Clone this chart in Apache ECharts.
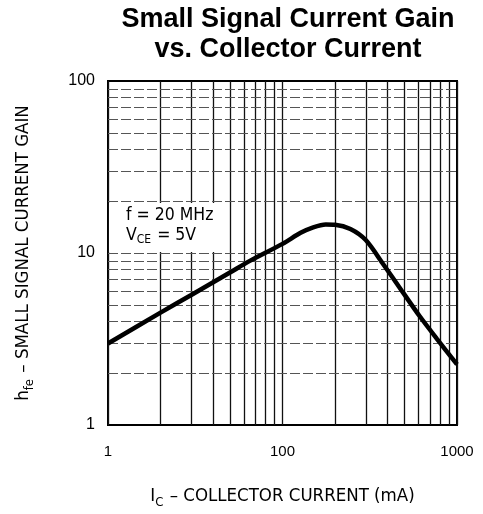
<!DOCTYPE html>
<html>
<head>
<meta charset="utf-8">
<script src="https://cdn.jsdelivr.net/npm/echarts@6/dist/echarts.min.js"></script>
<style>
  html, body { margin: 0; padding: 0; background: #fff; }
  #chart { width: 483px; height: 514px; }
</style>
</head>
<body>
<div id="chart"></div>
<script>
  // curve (x in grid position, y = hfe)
  var currentValues = [1, 2, 3, 5, 6.5, 10, 12.7, 15, 17.7, 20, 24.5, 30, 37.8, 49, 61, 76.5, 100];
  var gainValues = [2.98, 4.5, 5.7, 7.7, 9.0, 11.3, 13.1, 14.1, 14.65, 14.6, 13.8, 11.9, 8.6, 5.9, 4.3, 3.18, 2.25];

  // tick labels as printed on the sheet
  var xTickValues = [1, 10, 100];
  var xTickLabels = ['1', '100', '1000'];
  var yTickValues = [1, 10, 100];
  var yTickLabels = ['1', '10', '100'];

  // minor grid lines of the log paper
  var minorLines = [2, 3, 4, 5, 6, 7, 8, 9, 20, 30, 40, 50, 60, 70, 80, 90];

  var narrow = "'Liberation Sans Narrow', 'DejaVu Sans Condensed', 'Liberation Sans', Arial, sans-serif";

  function tickLabel(values, labels) {
    return function (v) {
      for (var i = 0; i < values.length; i++) {
        if (Math.abs(v - values[i]) < 1e-6) return labels[i];
      }
      return '';
    };
  }

  var pts = [];
  for (var i = 0; i < currentValues.length; i++) {
    pts.push([currentValues[i], gainValues[i]]);
  }

  var vLines = [], hLines = [];
  for (var j = 0; j < minorLines.length; j++) {
    vLines.push({ xAxis: minorLines[j] });
    hLines.push({ yAxis: minorLines[j] });
  }
  hLines.push({ yAxis: 10 });

  var nameRich = {
    n: { fontSize: 18.5, lineHeight: 22, verticalAlign: 'top', fontFamily: narrow, color: '#000' },
    s: { fontSize: 13, lineHeight: 13, padding: [12, 1, 0, 0], verticalAlign: 'bottom', fontFamily: narrow, color: '#000' }
  };

  var chart = echarts.init(document.getElementById('chart'));
  chart.setOption({
    animation: false,
    backgroundColor: '#fff',
    title: {
      text: 'Small Signal Current Gain\nvs. Collector Current',
      left: 283,
      top: 0,
      textAlign: 'center',
      textStyle: {
        fontFamily: "'Liberation Sans', Arial, sans-serif",
        fontWeight: 'bold',
        fontSize: 27,
        lineHeight: 30,
        color: '#000'
      }
    },
    grid: {
      left: 108,
      top: 81,
      right: 26,
      bottom: 87,
      show: true,
      borderColor: '#000',
      borderWidth: 2,
      backgroundColor: 'transparent'
    },
    xAxis: {
      type: 'log',
      logBase: 10,
      min: 1,
      max: 100,
      axisLine: { show: false },
      axisTick: { show: false },
      splitLine: { show: true, lineStyle: { color: '#111', width: 1.3 } },
      axisLabel: {
        margin: 19,
        fontSize: 15,
        color: '#000',
        fontFamily: "'Liberation Sans', Arial, sans-serif",
        formatter: tickLabel(xTickValues, xTickLabels)
      },
      name: '{n|I}{s|C}{n| – COLLECTOR CURRENT (mA)}',
      nameLocation: 'middle',
      nameGap: 62,
      nameTextStyle: { rich: nameRich }
    },
    yAxis: {
      type: 'log',
      logBase: 10,
      min: 1,
      max: 100,
      axisLine: { show: false },
      axisTick: { show: false },
      splitLine: { show: false },
      axisLabel: {
        margin: 13,
        fontSize: 16,
        color: '#000',
        fontFamily: "'Liberation Sans', Arial, sans-serif",
        formatter: tickLabel(yTickValues, yTickLabels)
      },
      name: '{n|h}{s|fe}{n| – SMALL SIGNAL CURRENT GAIN}',
      nameLocation: 'middle',
      nameGap: 72,
      nameRotate: 90,
      nameTextStyle: { rich: nameRich }
    },
    graphic: [
      {
        type: 'rect',
        z: 10,
        shape: { x: 109, y: 203, width: 113, height: 49 },
        style: { fill: '#fff' }
      },
      {
        type: 'text',
        z: 11,
        left: 126,
        top: 206,
        style: {
          text: '{n|f = 20 MHz}\n{n|V}{s|CE}{n| = 5V}',
          rich: {
            n: { fontSize: 17.5, lineHeight: 20, verticalAlign: 'top', fontFamily: narrow, fill: '#000' },
            s: { fontSize: 12, lineHeight: 12, padding: [10, 1, 0, 0], verticalAlign: 'bottom', fontFamily: narrow, fill: '#000' }
          }
        }
      }
    ],
    series: [
      {
        type: 'line',
        data: [],
        z: 1,
        silent: true,
        markLine: {
          silent: true,
          symbol: ['none', 'none'],
          label: { show: false },
          lineStyle: { color: '#111', width: 1.3, type: 'solid' },
          data: vLines
        }
      },
      {
        type: 'line',
        data: [],
        z: 1,
        silent: true,
        markLine: {
          silent: true,
          symbol: ['none', 'none'],
          label: { show: false },
          lineStyle: { color: '#555', width: 1, type: [10, 3] },
          data: hLines
        }
      },
      {
        type: 'line',
        data: pts,
        z: 20,
        smooth: 0.3,
        showSymbol: false,
        lineStyle: { color: '#000', width: 4.5 }
      }
    ]
  });
</script>
</body>
</html>
